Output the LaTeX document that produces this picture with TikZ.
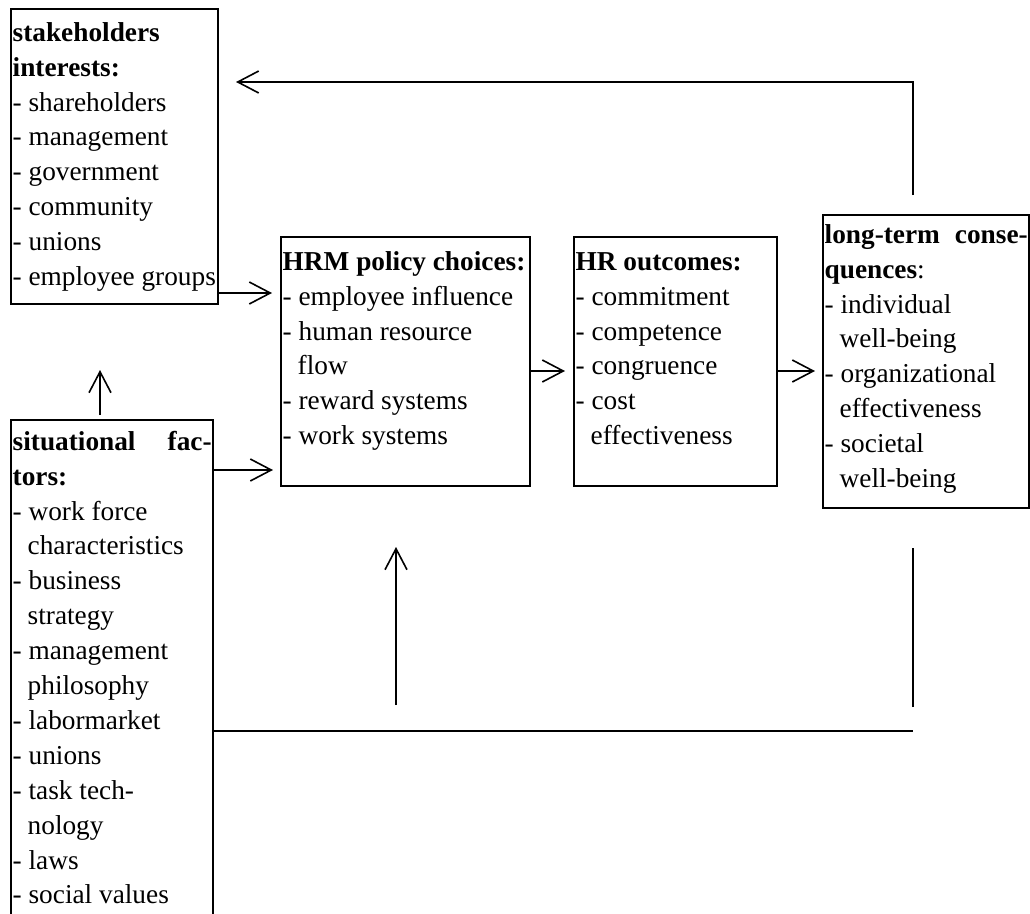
\documentclass[tikz,border=0pt]{standalone}
\usepackage{fontspec}
\setmainfont{Liberation Serif}
\usetikzlibrary{arrows.meta}
\begin{document}
\begin{tikzpicture}[x=1pt,y=-1pt,
  box/.style={draw, line width=1.6pt, anchor=north west, inner sep=0pt, outer sep=0pt},
  txt/.style={anchor=north west, inner sep=0pt, align=left, font=\fontsize{27.3}{34.9}\selectfont},
  conn/.style={line width=1.6pt},
  arr/.style={conn, -{Straight Barb[length=21pt,width=22pt,line width=1.6pt]}}]
\useasboundingbox (0,0) rectangle (1030,913);

% boxes
\node[box, minimum width=207, minimum height=295] (stake) at (11,9) {};
\node[box, minimum width=202, minimum height=520] (sit) at (11,420) {};
\node[box, minimum width=249, minimum height=249] (hrm) at (281,237) {};
\node[box, minimum width=203, minimum height=249] (hr) at (574,237) {};
\node[box, minimum width=206, minimum height=293] (lt) at (823,215) {};

% texts
\node[txt] (stake-t) at (12.5,17) {\rule{0pt}{24pt}\textbf{stakeholders}\\
\textbf{interests:}\\
- shareholders\\
- management\\
- government\\
- community\\
- unions\\
- employee groups};

\node[txt] (sit-t) at (12.5,426) {\rule{0pt}{24pt}\hbox to 199pt{\textbf{situational}\hfill\textbf{fac-}}\\
\textbf{tors:}\\
- work force\\
\hspace*{15pt}characteristics\\
- business\\
\hspace*{15pt}strategy\\
- management\\
\hspace*{15pt}philosophy\\
- labormarket\\
- unions\\
- task tech-\\
\hspace*{15pt}nology\\
- laws\\
- social values};

\node[txt] (hrm-t) at (282.5,246) {\rule{0pt}{24pt}\textbf{HRM policy choices:}\\
- employee influence\\
- human resource\\
\hspace*{15pt}flow\\
- reward systems\\
- work systems};

\node[txt] (hr-t) at (575.5,246) {\rule{0pt}{24pt}\textbf{HR outcomes:}\\
- commitment\\
- competence\\
- congruence\\
- cost\\
\hspace*{15pt}effectiveness};

\node[txt] (lt-t) at (824.5,219) {\rule{0pt}{24pt}\hbox to 203pt{\textbf{long-term}\hfill\textbf{conse-}}\\
\textbf{quences}:\\
- individual\\
\hspace*{15pt}well-being\\
- organizational\\
\hspace*{15pt}effectiveness\\
- societal\\
\hspace*{15pt}well-being};

% feedback loop on top
\coordinate (fbA) at (913,195);
\coordinate (fbB) at (913,82);
\coordinate (fbC) at (236,82);
\draw[arr] (fbA) -- (fbB) -- (fbC);

% arrows into HRM
\draw[arr, shorten >=9pt] (stake.east |- 0,293) -- (hrm.west |- 0,293);
\draw[arr, shorten >=8pt] (sit.east |- 0,470) -- (hrm.west |- 0,470);
\draw[arr, shorten <=5pt, shorten >=66pt] (sit.north -| 100,0) -- (stake.south -| 100,0);

% chain
\draw[arr, shorten >=9pt] (hrm.east |- 0,371) -- (hr.west |- 0,371);
\draw[arr, shorten >=8pt] (hr.east |- 0,371) -- (lt.west |- 0,371);

% bottom loop
\coordinate (bR) at (913,731);
\draw[conn] (sit.east |- bR) -- (bR);
\coordinate (vTop) at (913,548);
\coordinate (vBot) at (913,707);
\draw[conn] (vBot) -- (vTop);
\coordinate (up0) at (396,705);
\draw[arr, shorten >=61pt] (up0) -- (hrm.south -| up0);
\end{tikzpicture}
\end{document}
